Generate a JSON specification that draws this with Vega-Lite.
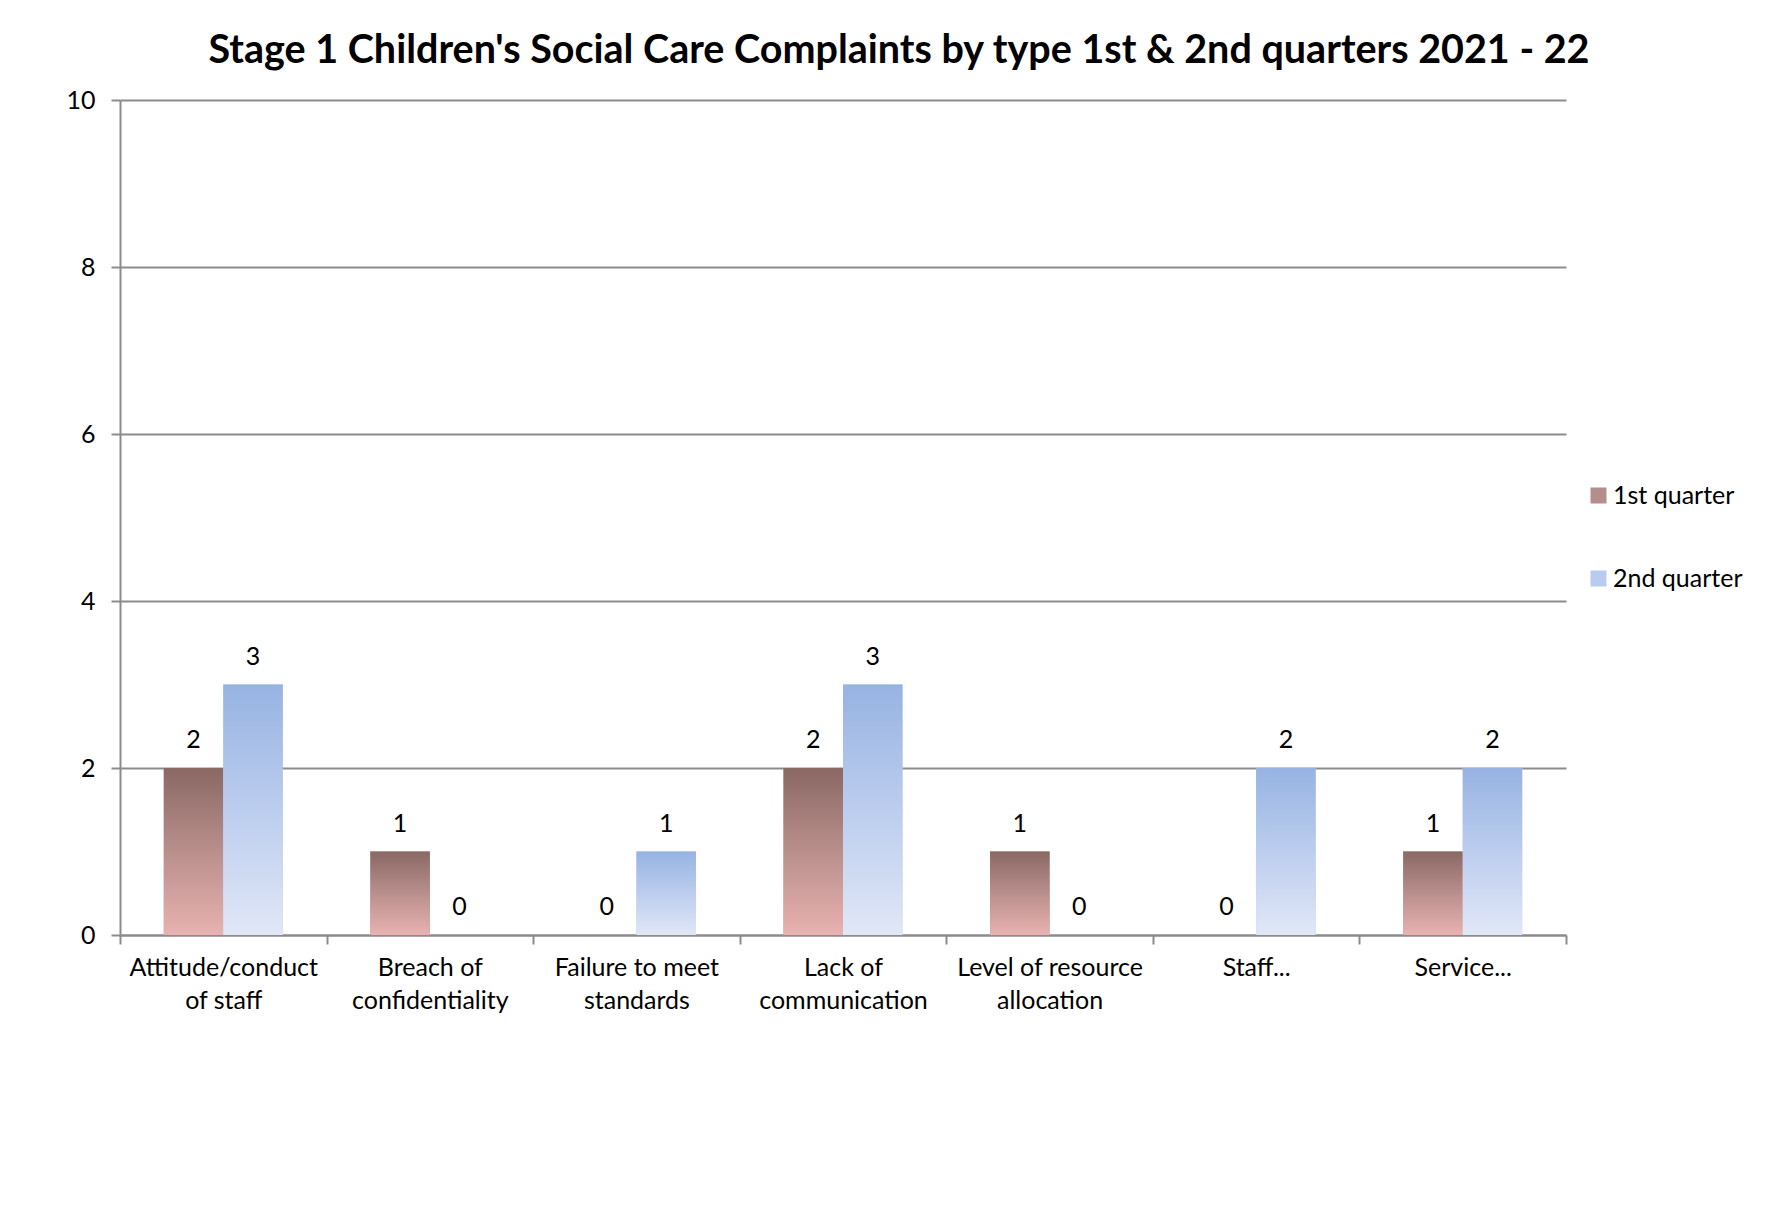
{
  "$schema": "https://vega.github.io/schema/vega-lite/v6.json",
  "width": 1446,
  "height": 835,
  "autosize": {"type": "pad"},
  "padding": {"left": 65, "top": 30, "right": 0, "bottom": 0},
  "background": "white",
  "title": {
    "text": "Stage 1 Children's Social Care Complaints by type 1st & 2nd quarters 2021 - 22",
    "font": "Lato",
    "fontSize": 39.5,
    "fontWeight": "bold",
    "color": "#000000",
    "anchor": "middle",
    "frame": "group",
    "dx": 56,
    "offset": 17
  },
  "data": {
    "values": [
      {"category": "Attitude/conduct\nof staff", "quarter": "1st quarter", "count": 2},
      {"category": "Attitude/conduct\nof staff", "quarter": "2nd quarter", "count": 3},
      {"category": "Breach of\nconfidentiality", "quarter": "1st quarter", "count": 1},
      {"category": "Breach of\nconfidentiality", "quarter": "2nd quarter", "count": 0},
      {"category": "Failure to meet\nstandards", "quarter": "1st quarter", "count": 0},
      {"category": "Failure to meet\nstandards", "quarter": "2nd quarter", "count": 1},
      {"category": "Lack of\ncommunication", "quarter": "1st quarter", "count": 2},
      {"category": "Lack of\ncommunication", "quarter": "2nd quarter", "count": 3},
      {"category": "Level of resource\nallocation", "quarter": "1st quarter", "count": 1},
      {"category": "Level of resource\nallocation", "quarter": "2nd quarter", "count": 0},
      {"category": "Staff...", "quarter": "1st quarter", "count": 0},
      {"category": "Staff...", "quarter": "2nd quarter", "count": 2},
      {"category": "Service...", "quarter": "1st quarter", "count": 1},
      {"category": "Service...", "quarter": "2nd quarter", "count": 2}
    ]
  },
  "encoding": {
    "x": {
      "field": "category",
      "type": "nominal",
      "sort": null,
      "title": null,
      "scale": {"paddingInner": 0, "paddingOuter": 0},
      "axis": {
        "labelExpr": "datum.value ? split(datum.value, '\\n') : ''",
        "labelAngle": 0,
        "labelPadding": 11,
        "labelLineHeight": 33,
        "labelLimit": 0,
        "tickBand": "extent",
        "grid": false
      }
    },
    "xOffset": {
      "field": "quarter",
      "type": "nominal",
      "sort": ["1st quarter", "2nd quarter"],
      "scale": {"paddingInner": 0, "paddingOuter": 0.736}
    },
    "y": {
      "field": "count",
      "type": "quantitative",
      "title": null,
      "scale": {"domain": [0, 10], "nice": false},
      "axis": {
        "values": [0, 2, 4, 6, 8, 10],
        "grid": true,
        "labelPadding": 16,
        "minExtent": 50,
        "maxExtent": 50
      }
    }
  },
  "layer": [
    {
      "mark": {"type": "bar"},
      "encoding": {
        "color": {
          "field": "quarter",
          "type": "nominal",
          "scale": {
            "domain": ["1st quarter", "2nd quarter"],
            "range": ["#b48e8b", "#b9cbee"]
          },
          "legend": {
            "orient": "none",
            "legendX": 1466,
            "legendY": 383,
            "title": null,
            "symbolType": "square",
            "symbolSize": 256,
            "symbolStrokeWidth": 0,
            "symbolOpacity": 1,
            "labelFont": "Lato",
            "labelFontSize": 25,
            "labelColor": "#000000",
            "labelOffset": 2,
            "rowPadding": 57
          }
        }
      }
    },
    {
      "mark": {"type": "bar"},
      "encoding": {
        "color": {
          "condition": {
            "test": "datum.quarter === '1st quarter'",
            "value": {
              "gradient": "linear",
              "x1": 0, "y1": 0, "x2": 0, "y2": 1,
              "stops": [
                {"offset": 0, "color": "#8a6864"},
                {"offset": 0.5, "color": "#b98f8c"},
                {"offset": 1, "color": "#e8b2b0"}
              ]
            }
          },
          "value": {
            "gradient": "linear",
            "x1": 0, "y1": 0, "x2": 0, "y2": 1,
            "stops": [
              {"offset": 0, "color": "#97b3e2"},
              {"offset": 0.5, "color": "#bccdee"},
              {"offset": 1, "color": "#e1e7f6"}
            ]
          }
        }
      }
    },
    {
      "mark": {
        "type": "text",
        "dy": -20,
        "baseline": "alphabetic",
        "font": "Lato",
        "fontSize": 25,
        "color": "#000000"
      },
      "encoding": {
        "text": {"field": "count", "type": "quantitative"}
      }
    }
  ],
  "config": {
    "view": {"stroke": null},
    "axis": {
      "domainColor": "#8c8c8c",
      "domainWidth": 2,
      "tickColor": "#8c8c8c",
      "tickWidth": 2,
      "tickSize": 9,
      "gridColor": "#8c8c8c",
      "gridWidth": 2,
      "labelFont": "Lato",
      "labelFontSize": 25,
      "labelColor": "#000000"
    }
  }
}
